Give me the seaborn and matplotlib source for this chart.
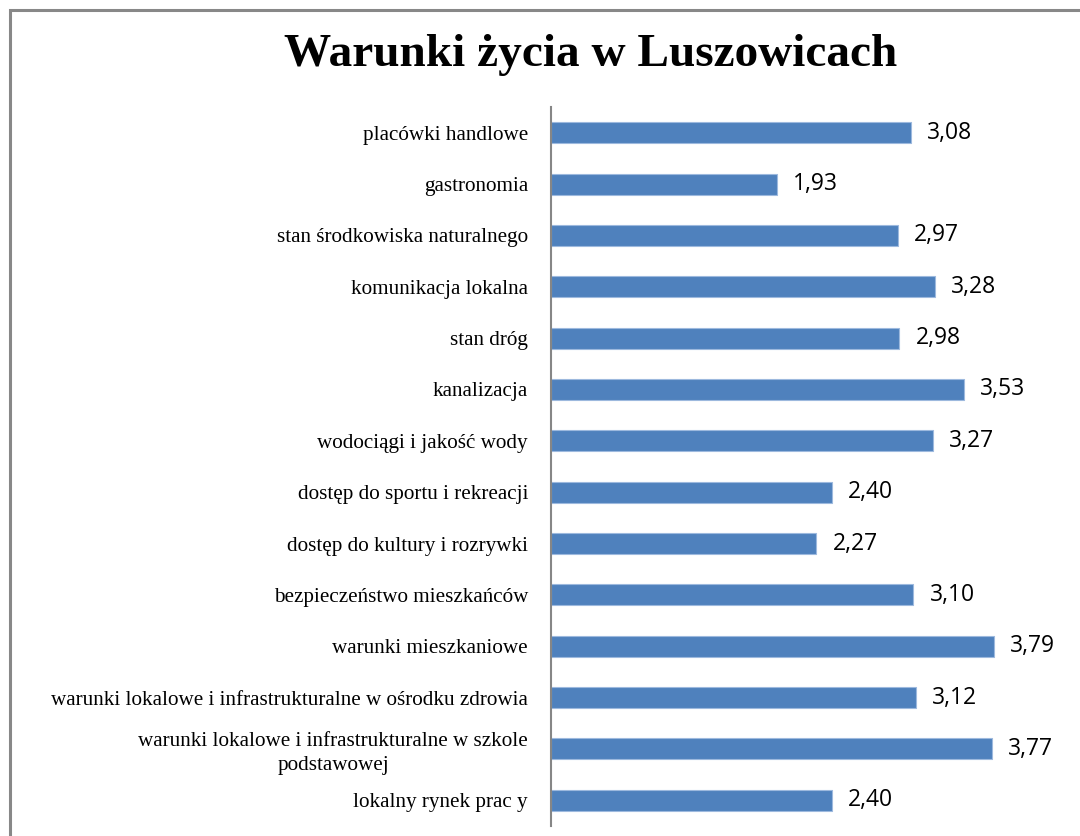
import pandas as pd
import matplotlib.pyplot as plt
import matplotlib.patches as patches
import seaborn as sns

# dane z wykresu
kategorie = [
    "placówki handlowe",
    "gastronomia",
    "stan środkowiska naturalnego",
    "komunikacja lokalna",
    "stan dróg",
    "kanalizacja",
    "wodociągi i jakość wody",
    "dostęp do sportu i rekreacji",
    "dostęp do kultury i rozrywki",
    "bezpieczeństwo mieszkańców",
    "warunki mieszkaniowe",
    "warunki lokalowe i infrastrukturalne w ośrodku zdrowia",
    "warunki lokalowe i infrastrukturalne w szkole\npodstawowej",
    "lokalny rynek prac y",
]
oceny = [3.08, 1.93, 2.97, 3.28, 2.98, 3.53, 3.27, 2.40, 2.27, 3.10, 3.79, 3.12, 3.77, 2.40]

df = pd.DataFrame({"kategoria": kategorie, "ocena": oceny})

sns.set_style("white")

fig = plt.figure(figsize=(10.8, 8.36), dpi=100)
ax = fig.add_axes([551 / 1080, 1 - 826 / 836, 525 / 1080, (826 - 107) / 836])

sns.barplot(data=df, y="kategoria", x="ocena", orient="h", color="#4F81BD",
            saturation=1, width=0.41, edgecolor="#9DB9DE", linewidth=0.8, ax=ax)

ax.set_xlim(0, 4.49)
ax.set_ylim(13.5, -0.5)
ax.set_xlabel("")
ax.set_ylabel("")
ax.set_xticks([])
for s in ["top", "right", "bottom"]:
    ax.spines[s].set_visible(False)
ax.spines["left"].set_color("#868686")
ax.spines["left"].set_linewidth(1.5)
ax.tick_params(axis="y", length=0, pad=16.5, labelcolor="black")
for lab in ax.get_yticklabels():
    lab.set_fontfamily("Liberation Serif")
    lab.set_fontsize(15.2)
    lab.set_multialignment("center")
    lab.set_linespacing(1.35)

# etykiety wartości
for i, v in enumerate(oceny):
    ax.text(v + 0.137, i, f"{v:.2f}".replace(".", ","), va="center", ha="left",
            fontsize=16.5, family="Open Sans", color="black")

# tytuł
fig.text(0.547, 1 - 55 / 836, "Warunki życia w Luszowicach", ha="center", va="center",
         fontsize=34, fontweight="bold", family="Liberation Serif", color="black")

# ramka wykresu
fig.patches.append(patches.Rectangle((9.5 / 1080, -0.1), 2, (836 - 9.5) / 836 + 0.1,
                                     transform=fig.transFigure, fill=False,
                                     edgecolor="#888888", linewidth=2.2))

fig.savefig("out.png", dpi=100)
